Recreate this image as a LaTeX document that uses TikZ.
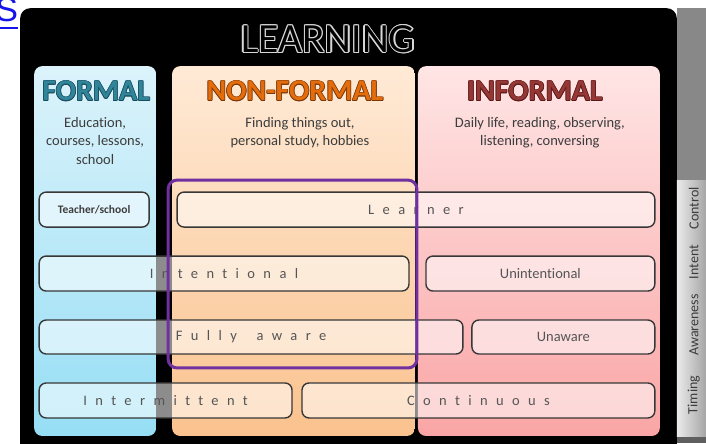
\documentclass[tikz,border=0pt]{standalone}
\usepackage{xcolor}
\usepackage{amsmath}
\usepackage{fontspec}
\setmainfont{Carlito}[Ligatures=NoCommon]
\newfontfamily\linkfont{Liberation Sans}
\definecolor{linkblue}{RGB}{20,20,235}
\definecolor{stripgray}{RGB}{136,136,136}
\definecolor{stripdark}{RGB}{95,95,95}
\definecolor{formaltop}{RGB}{220,243,251}
\definecolor{formalbot}{RGB}{150,222,245}
\definecolor{nonformaltop}{RGB}{255,234,214}
\definecolor{nonformalbot}{RGB}{250,194,142}
\definecolor{informaltop}{RGB}{255,229,229}
\definecolor{informalbot}{RGB}{250,165,165}
\definecolor{formalfg}{RGB}{49,133,155}
\definecolor{formaledge}{RGB}{25,75,90}
\definecolor{nonformalfg}{RGB}{228,108,10}
\definecolor{nonformaledge}{RGB}{120,55,10}
\definecolor{informalfg}{RGB}{149,55,53}
\definecolor{informaledge}{RGB}{90,25,25}
\definecolor{titleedge}{RGB}{215,215,215}
\definecolor{boxline}{RGB}{55,55,55}
\definecolor{spacedgray}{RGB}{85,85,85}
\definecolor{subgray}{RGB}{60,60,60}
\definecolor{focuspurple}{RGB}{112,48,160}
% text with a thin halo round it
\newdimen\halodist
\newdimen\halodiag
\newcommand{\halotext}[4][1pt]{{%
  \halodist=#1\relax\halodiag=.7\halodist
  \setbox0\hbox{#4}%
  \color{#2}%
  \rlap{\kern\halodist\copy0}\rlap{\kern-\halodist\copy0}%
  \rlap{\raisebox{\halodist}{\copy0}}\rlap{\raisebox{-\halodist}{\copy0}}%
  \rlap{\kern\halodiag\raisebox{\halodiag}{\copy0}}\rlap{\kern-\halodiag\raisebox{\halodiag}{\copy0}}%
  \rlap{\kern\halodiag\raisebox{-\halodiag}{\copy0}}\rlap{\kern-\halodiag\raisebox{-\halodiag}{\copy0}}%
  \color{#3}\box0}}

\begin{document}
\begin{tikzpicture}[scale=1.000000,x=1pt,y=-1pt,
  rowbox/.style={draw=boxline, line width=1.400000pt, rounded corners=7pt, fill=white, fill opacity=0.550000, text opacity=1, inner sep=0pt, minimum height=35.000000pt},
  spaced/.style={text=spacedgray, font=\fontsize{14.5}{17}\selectfont\addfontfeature{LetterSpace=58}},
  plain/.style={text=spacedgray, font=\fontsize{14.5}{17}\selectfont},
  heading/.style={inner sep=0pt, font=\fontsize{30}{34}\selectfont\bfseries},
  subtext/.style={align=center, text=subgray, inner sep=0pt, anchor=north, font=\fontsize{14.5}{18.5}\selectfont},
  sidelabel/.style={rotate=90, text=subgray, inner sep=0pt, font=\fontsize{14}{16}\selectfont},
  focus/.style={draw=focuspurple, line width=3.000000pt, rounded corners=9pt}]
\filldraw[color=white] (0.000000, 0.000000) rectangle (706.000000, 443.000000);
\path[use as bounding box] (0.000000, 0.000000) rectangle (706.000000, 443.000000);
% Drawing panel and side strip
\node[anchor=base east, inner sep=0pt, text=linkblue, font=\linkfont\fontsize{34}{34}\selectfont] (link) at (18.000000, 21.000000) {S};
\draw[linkblue, line width=2.000000pt] ([yshift=-7pt]link.base west) -- ([yshift=-7pt]link.base east);
\fill[black, rounded corners=10pt] (20.000000, 8.000000) rectangle (677.000000, 470.000000);
\fill[stripgray] (677.000000, 8.000000) rectangle (706.000000, 180.000000);
\shade[left color=black!8, right color=black!35] (677.000000, 180.000000) rectangle (706.000000, 437.000000);
\fill[stripdark] (677.000000, 437.000000) rectangle (706.000000, 443.000000);
\node[sidelabel] (control) at (694.000000, 208.000000) {Control};
\node[sidelabel] (intent) at (694.000000, 262.000000) {Intent};
\node[sidelabel] (awareness) at (694.000000, 325.000000) {Awareness};
\node[sidelabel] (timing) at (694.000000, 395.000000) {Timing};
% Drawing columns
\shade[top color=formaltop, bottom color=formalbot, rounded corners=8pt] (34.000000, 66.000000) rectangle (156.000000, 436.000000);
\shade[top color=nonformaltop, bottom color=nonformalbot, rounded corners=8pt] (172.000000, 66.000000) rectangle (415.000000, 436.000000);
\shade[top color=informaltop, bottom color=informalbot, rounded corners=8pt] (418.000000, 66.000000) rectangle (660.000000, 436.000000);
\node[inner sep=0pt, font=\fontsize{41.5}{45}\selectfont] (title) at (328.000000, 39.000000) {\halotext[1.2pt]{titleedge}{black}{LEARNING}};
\node[heading] (formal) at (96.000000, 91.000000) {\halotext[0.7pt]{formaledge}{formalfg}{FORMAL}};
\node[heading] (nonformal) at (295.000000, 91.000000) {\halotext[0.7pt]{nonformaledge}{nonformalfg}{NON-FORMAL}};
\node[heading] (informal) at (535.000000, 91.000000) {\halotext[0.7pt]{informaledge}{informalfg}{INFORMAL}};
\node[subtext] (formaltext) at (95.000000, 117.000000) {Education,\\courses, lessons,\\school};
\node[subtext] (nonformaltext) at (300.000000, 117.000000) {Finding things out,\\personal study, hobbies};
\node[subtext] (informaltext) at (540.000000, 117.000000) {Daily life, reading, observing,\\listening, conversing};
% Done with columns; drawing rows
% Row 1: control
\node[rowbox, minimum width=110.000000pt, text=subgray, font=\fontsize{11.5}{13}\selectfont\bfseries] (teacher) at (94.000000, 209.500000) {Teacher/school};
\node[rowbox, spaced, minimum width=478.000000pt] (learner) at (416.000000, 209.500000) {Learner};
% Row 2: intent
\node[rowbox, spaced, minimum width=370.000000pt] (intentional) at (224.000000, 273.500000) {Intentional};
\node[rowbox, plain, minimum width=229.000000pt] (unintentional) at (540.500000, 273.500000) {Unintentional};
% Row 3: awareness
\node[rowbox, spaced, minimum width=424.000000pt, minimum height=34.000000pt] (fullyaware) at (251.000000, 337.000000) {Fully\hspace{8pt} aware};
\node[rowbox, plain, minimum width=183.000000pt, minimum height=34.000000pt] (unaware) at (563.500000, 337.000000) {Unaware};
% Row 4: timing
\node[rowbox, spaced, minimum width=253.000000pt] (intermittent) at (165.500000, 400.500000) {Intermittent};
\node[rowbox, spaced, minimum width=353.000000pt] (continuous) at (478.500000, 400.500000) {Continuous};
% Done with rows; drawing learner frame
\draw[focus] (168.000000, 180.000000) rectangle (417.000000, 368.000000);
\end{tikzpicture}
\end{document}
